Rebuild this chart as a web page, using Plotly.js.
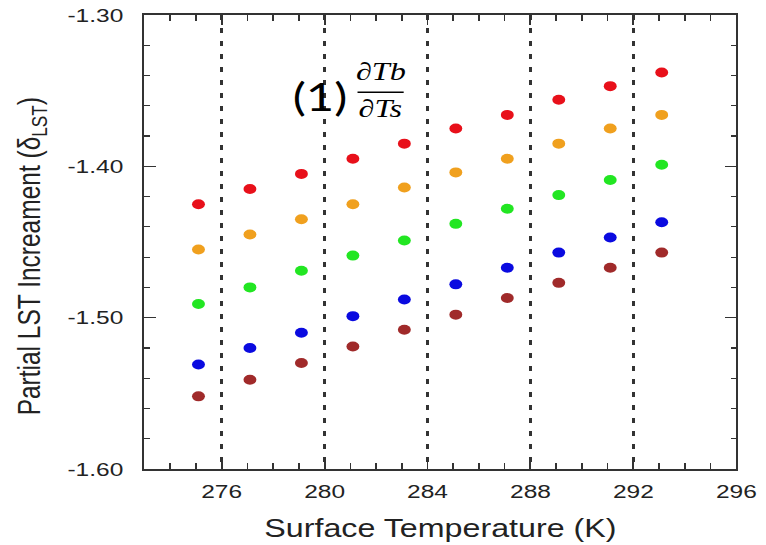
<!DOCTYPE html>
<html>
<head>
<meta charset="utf-8">
<script src="https://cdn.plot.ly/plotly-3.0.1.min.js"></script>
<style>
  html, body { margin: 0; padding: 0; background: #fff; overflow: hidden; }
  #wrap { width: 766px; height: 545px; overflow: hidden; }
  #chart { width: 594px; height: 545px; transform: scaleX(1.28956); transform-origin: 0 0; }
</style>
</head>
<body>
<div id="wrap"><div id="chart"></div></div>
<script>
// Surface temperature (K) for each column of points
const surfaceTemp = [275.1, 277.1, 279.1, 281.1, 283.1, 285.1, 287.1, 289.1, 291.1, 293.1];

// Partial LST increment series (top to bottom)
const seriesRed     = [-1.425, -1.415, -1.405, -1.395, -1.385, -1.375, -1.366, -1.356, -1.347, -1.338];
const seriesOrange  = [-1.455, -1.445, -1.435, -1.425, -1.414, -1.404, -1.395, -1.385, -1.375, -1.366];
const seriesGreen   = [-1.491, -1.480, -1.469, -1.459, -1.449, -1.438, -1.428, -1.419, -1.409, -1.399];
const seriesBlue    = [-1.531, -1.520, -1.510, -1.499, -1.488, -1.478, -1.467, -1.457, -1.447, -1.437];
const seriesBrown   = [-1.552, -1.541, -1.530, -1.519, -1.508, -1.498, -1.487, -1.477, -1.467, -1.457];

const seriesNames  = ['red', 'orange', 'green', 'blue', 'brown'];
const seriesValues = [seriesRed, seriesOrange, seriesGreen, seriesBlue, seriesBrown];
const seriesColors = ['#e8101a', '#f0a01e', '#22e622', '#0a0ae0', '#a02a2a'];

// Tick labels
const yTickVals = [-1.60, -1.50, -1.40, -1.30];
const yTickText = ['-1.60', '-1.50', '-1.40', '-1.30'];
const xTickVals = [276, 280, 284, 288, 292, 296];
const xTickText = ['276', '280', '284', '288', '292', '296'];

const traces = seriesValues.map((vals, i) => ({
  type: 'scatter',
  mode: 'markers',
  name: seriesNames[i],
  x: surfaceTemp,
  y: vals,
  marker: { color: seriesColors[i], size: 10, line: { width: 0 } },
  hoverinfo: 'x+y'
}));

const axisColor = '#333';
const tickFont = { family: 'Liberation Sans, Arial, sans-serif', size: 19, color: '#222' };

const layout = {
  width: 594,
  height: 545,
  margin: { l: 112, r: 23, t: 15, b: 76 },
  paper_bgcolor: '#fff',
  plot_bgcolor: '#fff',
  showlegend: false,
  xaxis: {
    range: [273, 296],
    tickmode: 'array',
    tickvals: xTickVals,
    ticktext: xTickText,
    ticks: 'inside',
    ticklen: 10,
    tickwidth: 1.5,
    tickcolor: axisColor,
    ticklabelstandoff: 4,
    minor: { tickmode: 'linear', tick0: 273, dtick: 1, ticks: 'inside', ticklen: 6, tickwidth: 1.2, tickcolor: axisColor, showgrid: false },
    showline: true,
    linecolor: axisColor,
    linewidth: 2,
    mirror: 'allticks',
    showgrid: true,
    gridcolor: '#333',
    gridwidth: 2,
    griddash: '5px,8px',
    zeroline: false,
    tickfont: tickFont,
    title: {
      text: 'Surface Temperature (K)',
      font: { family: 'Liberation Sans, Arial, sans-serif', size: 25, color: '#222' },
      standoff: 19
    }
  },
  yaxis: {
    range: [-1.60, -1.30],
    tickmode: 'array',
    tickvals: yTickVals,
    ticktext: yTickText,
    ticks: 'inside',
    ticklen: 9,
    tickwidth: 1.5,
    tickcolor: axisColor,
    ticklabelstandoff: 11,
    minor: { tickmode: 'linear', tick0: -1.60, dtick: 0.02, ticks: 'inside', ticklen: 4, tickwidth: 1.2, tickcolor: axisColor, showgrid: false },
    showline: true,
    linecolor: axisColor,
    linewidth: 1.6,
    mirror: 'allticks',
    showgrid: false,
    zeroline: false,
    tickfont: tickFont
  },
  annotations: [
    {
      xref: 'paper', yref: 'paper', x: -0.191, y: 0.469,
      xanchor: 'center', yanchor: 'middle', showarrow: false,
      textangle: -90,
      text: 'Partial LST Increament (δ<sub>LST</sub>)',
      font: { family: 'Liberation Sans, Arial, sans-serif', size: 24.5, color: '#222' }
    },
    {
      xref: 'paper', yref: 'paper', x: 0.296, y: 0.822,
      xanchor: 'center', yanchor: 'middle', showarrow: false,
      text: '(1)',
      font: { family: 'Lato, Noto Sans, sans-serif', size: 38, color: '#000' }
    },
    {
      xref: 'paper', yref: 'paper', x: 0.399, y: 0.876,
      xanchor: 'center', yanchor: 'middle', showarrow: false,
      text: '<i>∂Tb</i>',
      font: { family: 'Liberation Serif, serif', size: 25, color: '#000' }
    },
    {
      xref: 'paper', yref: 'paper', x: 0.399, y: 0.795,
      xanchor: 'center', yanchor: 'middle', showarrow: false,
      text: '<i>∂Ts</i>',
      font: { family: 'Liberation Serif, serif', size: 25, color: '#000' }
    }
  ],
  shapes: [
    {
      type: 'line', xref: 'paper', yref: 'paper',
      x0: 0.360, x1: 0.438, y0: 0.830, y1: 0.830,
      line: { color: '#000', width: 1.5 }
    }
  ]
};

Plotly.newPlot('chart', traces, layout, { displayModeBar: false, staticPlot: true });
</script>
</body>
</html>
